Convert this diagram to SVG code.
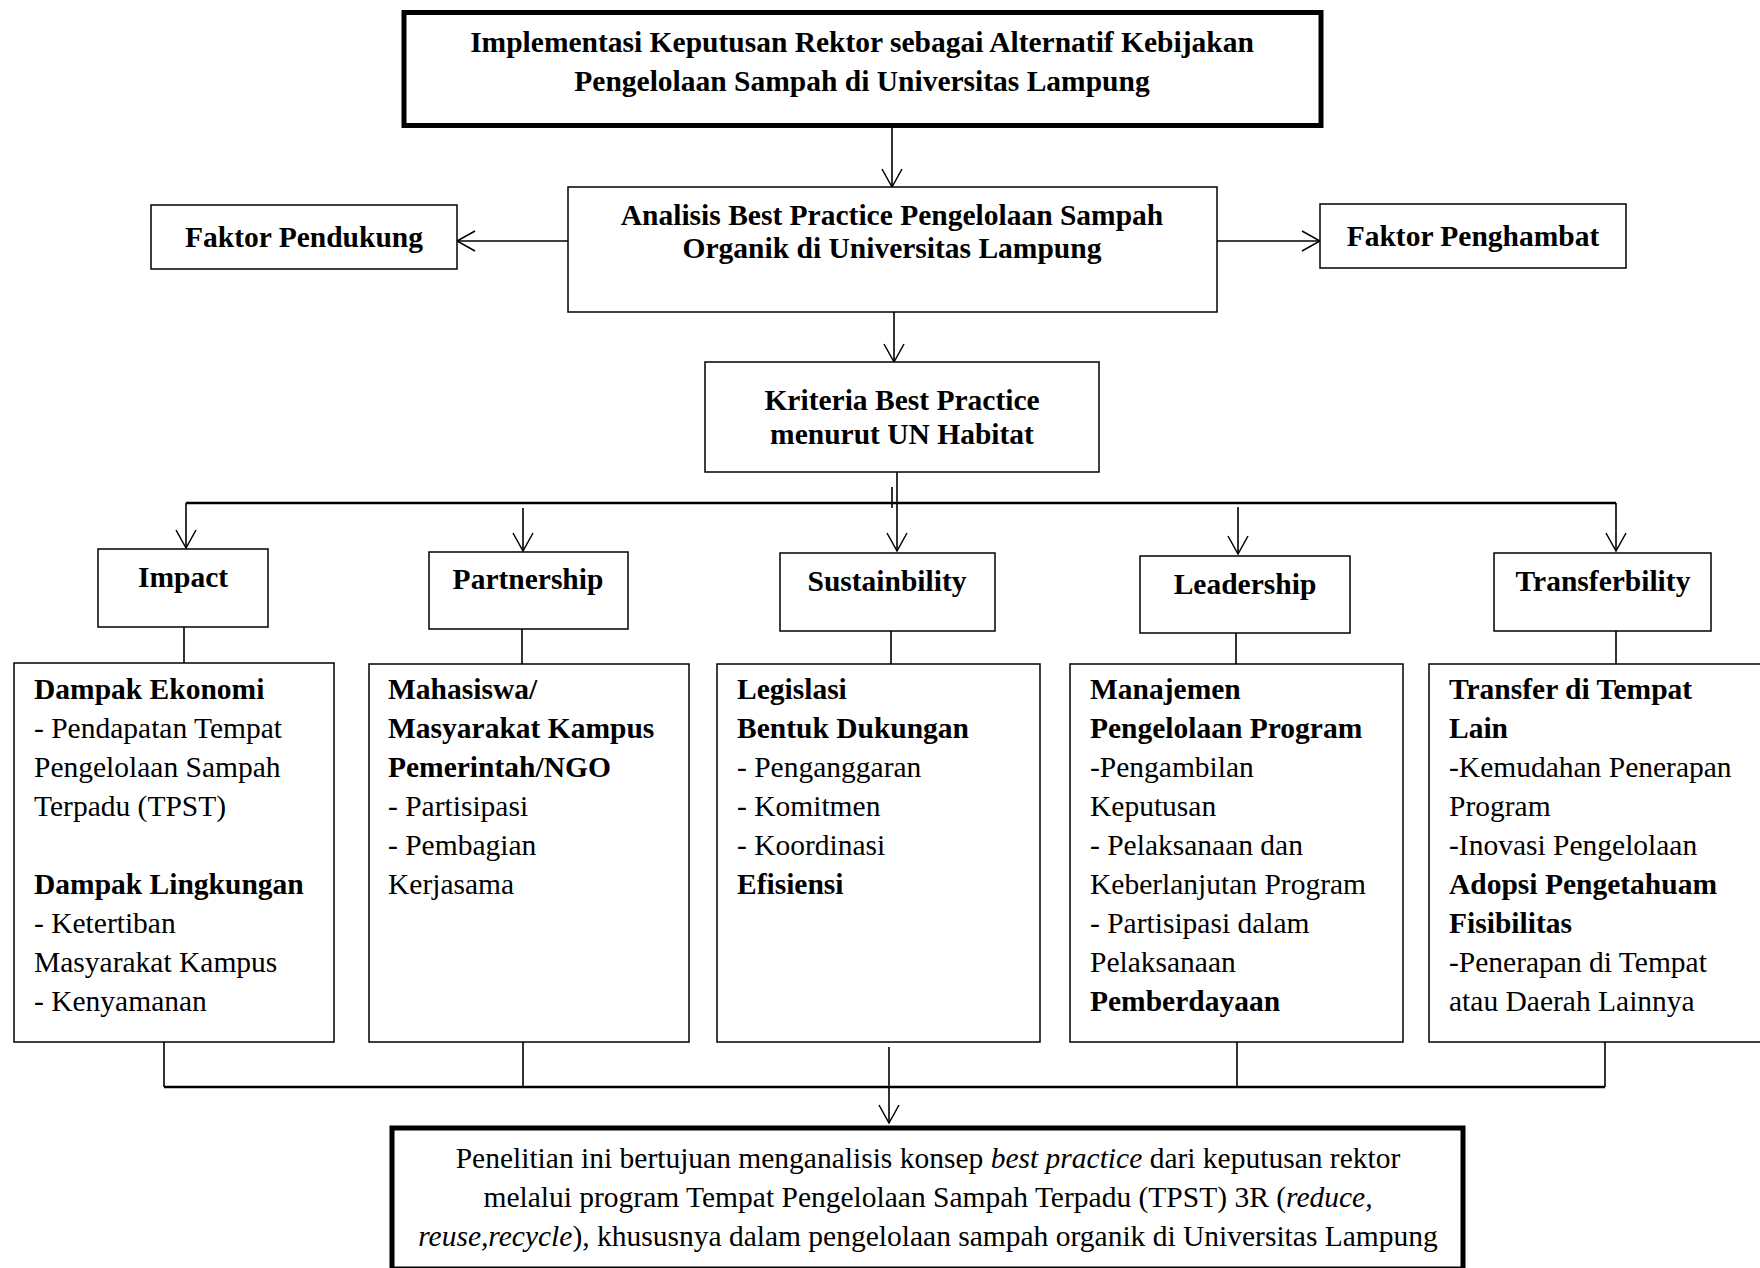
<svg xmlns="http://www.w3.org/2000/svg" width="1760" height="1268" viewBox="0 0 1760 1268">
<defs>
<style>
.box{fill:#fff;stroke:#000;stroke-width:1.5}
.thick{fill:#fff;stroke:#000;stroke-width:5}
.h{font-family:"Liberation Serif","Times New Roman",serif;font-weight:bold;font-size:29.5px;fill:#000}
.t{font-family:"Liberation Serif","Times New Roman",serif;font-size:29.5px;fill:#000}
.b{font-weight:bold}
.i{font-style:italic}
.c{text-anchor:middle}
.ln{fill:none;stroke:#000;stroke-width:1.6}
.ln2{fill:none;stroke:#000;stroke-width:2.4}
</style>
<marker id="arr" markerUnits="userSpaceOnUse" markerWidth="24" markerHeight="24" viewBox="0 0 24 24" refX="21" refY="12" orient="auto">
<path d="M3,2 L21,12 L3,22" fill="none" stroke="#000" stroke-width="1.5"/>
</marker>
</defs>
<rect width="1760" height="1268" fill="#fff"/>

<g id="connectors">
<path class="ln" d="M892,128 V187" marker-end="url(#arr)"/>
<path class="ln" d="M568,241 H457" marker-end="url(#arr)"/>
<path class="ln" d="M1217,241 H1320" marker-end="url(#arr)"/>
<path class="ln" d="M894,312 V362" marker-end="url(#arr)"/>
<path class="ln" d="M897,472 V551" marker-end="url(#arr)"/>
<path class="ln" d="M892,487 V508"/>
<path class="ln2" d="M186,503 H1616"/>
<path class="ln" d="M186,503 V548" marker-end="url(#arr)"/>
<path class="ln" d="M523,508 V551" marker-end="url(#arr)"/>
<path class="ln" d="M1238,507 V554" marker-end="url(#arr)"/>
<path class="ln" d="M1616,503 V551" marker-end="url(#arr)"/>
<path class="ln" d="M184,627 V663"/>
<path class="ln" d="M522,629 V664"/>
<path class="ln" d="M891,631 V664"/>
<path class="ln" d="M1236,633 V664"/>
<path class="ln" d="M1616,627 V664"/>
<path class="ln" d="M164,1042 V1087"/>
<path class="ln" d="M523,1042 V1087"/>
<path class="ln" d="M1237,1042 V1087"/>
<path class="ln" d="M1605,1042 V1087"/>
<path class="ln2" d="M164,1087 H1605"/>
<path class="ln" d="M889,1047 V1123" marker-end="url(#arr)"/>
</g>

<g id="title">
<rect class="thick" x="404" y="12.5" width="917" height="113"/>
<text class="h c" x="862" y="52">Implementasi Keputusan Rektor sebagai Alternatif Kebijakan</text>
<text class="h c" x="862" y="91">Pengelolaan Sampah di Universitas Lampung</text>
</g>

<g id="analisis">
<rect class="box" x="568" y="187" width="649" height="125"/>
<text class="h c" x="892" y="225">Analisis Best Practice Pengelolaan Sampah</text>
<text class="h c" x="892" y="258">Organik di Universitas Lampung</text>
</g>

<g id="faktor-pendukung">
<rect class="box" x="151" y="205" width="306" height="64"/>
<text class="h c" x="304" y="247">Faktor Pendukung</text>
</g>

<g id="faktor-penghambat">
<rect class="box" x="1320" y="204" width="306" height="64"/>
<text class="h c" x="1473" y="246">Faktor Penghambat</text>
</g>

<g id="kriteria">
<rect class="box" x="705" y="362" width="394" height="110"/>
<text class="h c" x="902" y="410">Kriteria Best Practice</text>
<text class="h c" x="902" y="444">menurut UN Habitat</text>
</g>

<g id="impact">
<rect class="box" x="98" y="549" width="170" height="78"/>
<text class="h c" x="183" y="587">Impact</text>
</g>

<g id="partnership">
<rect class="box" x="429" y="552" width="199" height="77"/>
<text class="h c" x="528" y="589">Partnership</text>
</g>

<g id="sustainability">
<rect class="box" x="780" y="553" width="215" height="78"/>
<text class="h c" x="887" y="591">Sustainbility</text>
</g>

<g id="leadership">
<rect class="box" x="1140" y="556" width="210" height="77"/>
<text class="h c" x="1245" y="594">Leadership</text>
</g>

<g id="transferbility">
<rect class="box" x="1494" y="553" width="217" height="78"/>
<text class="h c" x="1603" y="591">Transferbility</text>
</g>

<g id="impact-detail">
<rect class="box" x="14" y="663" width="320" height="379"/>
<text class="t">
<tspan x="34" y="699" class="b">Dampak Ekonomi</tspan>
<tspan x="34" y="738">- Pendapatan Tempat</tspan>
<tspan x="34" y="777">Pengelolaan Sampah</tspan>
<tspan x="34" y="816">Terpadu (TPST)</tspan>
<tspan x="34" y="894" class="b">Dampak Lingkungan</tspan>
<tspan x="34" y="933">- Ketertiban</tspan>
<tspan x="34" y="972">Masyarakat Kampus</tspan>
<tspan x="34" y="1011">- Kenyamanan</tspan>
</text>
</g>

<g id="partnership-detail">
<rect class="box" x="369" y="664" width="320" height="378"/>
<text class="t">
<tspan x="388" y="699" class="b">Mahasiswa/</tspan>
<tspan x="388" y="738" class="b">Masyarakat Kampus</tspan>
<tspan x="388" y="777" class="b">Pemerintah/NGO</tspan>
<tspan x="388" y="816">- Partisipasi</tspan>
<tspan x="388" y="855">- Pembagian</tspan>
<tspan x="388" y="894">Kerjasama</tspan>
</text>
</g>

<g id="sustainability-detail">
<rect class="box" x="717" y="664" width="323" height="378"/>
<text class="t">
<tspan x="737" y="699" class="b">Legislasi</tspan>
<tspan x="737" y="738" class="b">Bentuk Dukungan</tspan>
<tspan x="737" y="777">- Penganggaran</tspan>
<tspan x="737" y="816">- Komitmen</tspan>
<tspan x="737" y="855">- Koordinasi</tspan>
<tspan x="737" y="894" class="b">Efisiensi</tspan>
</text>
</g>

<g id="leadership-detail">
<rect class="box" x="1070" y="664" width="333" height="378"/>
<text class="t">
<tspan x="1090" y="699" class="b">Manajemen</tspan>
<tspan x="1090" y="738" class="b">Pengelolaan Program</tspan>
<tspan x="1090" y="777">-Pengambilan</tspan>
<tspan x="1090" y="816">Keputusan</tspan>
<tspan x="1090" y="855">- Pelaksanaan dan</tspan>
<tspan x="1090" y="894">Keberlanjutan Program</tspan>
<tspan x="1090" y="933">- Partisipasi dalam</tspan>
<tspan x="1090" y="972">Pelaksanaan</tspan>
<tspan x="1090" y="1011" class="b">Pemberdayaan</tspan>
</text>
</g>

<g id="transferbility-detail">
<rect class="box" x="1429" y="664" width="340" height="378"/>
<text class="t">
<tspan x="1449" y="699" class="b">Transfer di Tempat</tspan>
<tspan x="1449" y="738" class="b">Lain</tspan>
<tspan x="1449" y="777">-Kemudahan Penerapan</tspan>
<tspan x="1449" y="816">Program</tspan>
<tspan x="1449" y="855">-Inovasi Pengelolaan</tspan>
<tspan x="1449" y="894" class="b">Adopsi Pengetahuam</tspan>
<tspan x="1449" y="933" class="b">Fisibilitas</tspan>
<tspan x="1449" y="972">-Penerapan di Tempat</tspan>
<tspan x="1449" y="1011">atau Daerah Lainnya</tspan>
</text>
</g>

<g id="conclusion">
<rect class="thick" x="392" y="1128" width="1071" height="141"/>
<text class="t c" x="928" y="1168">Penelitian ini bertujuan menganalisis konsep <tspan class="i">best practice</tspan> dari keputusan rektor</text>
<text class="t c" x="928" y="1207">melalui program Tempat Pengelolaan Sampah Terpadu (TPST) 3R (<tspan class="i">reduce,</tspan></text>
<text class="t c" x="928" y="1246"><tspan class="i">reuse,recycle</tspan>), khususnya dalam pengelolaan sampah organik di Universitas Lampung</text>
</g>
</svg>
